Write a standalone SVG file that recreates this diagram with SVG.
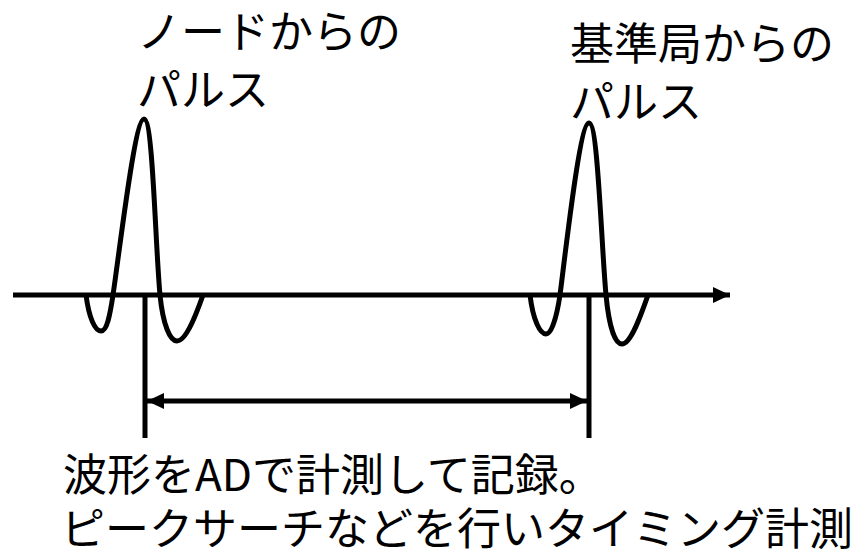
<svg xmlns="http://www.w3.org/2000/svg" width="856" height="558" viewBox="0 0 856 558">
<style>
.t{font-family:"Noto Sans CJK JP","Noto Sans",sans-serif;font-size:44px;fill:#000}
.s{fill:none;stroke:#000;stroke-width:5}
</style>
<defs>
<marker id="ah" markerUnits="userSpaceOnUse" markerWidth="18" markerHeight="18" viewBox="0 0 18 18" refX="17" refY="9" orient="auto-start-reverse">
<path d="M0,1 L17,9 L0,17 Z" fill="#000"/>
</marker>
</defs>
<rect width="856" height="558" fill="#fff"/>
<g id="node-pulse">
<text class="t" x="137" y="48">ノードからの</text>
<text class="t" x="137" y="106">パルス</text>
<path class="s" d="M86,295 C89,318 95,331 101,331 C107,331 110,315 113,295 C121,240 135,119 144,119 C153,119 155,240 160,295 C163,325 170,341 177,341 C186,341 196,315 203,295"/>
</g>
<g id="ref-pulse">
<text class="t" x="570" y="60">基準局からの</text>
<text class="t" x="570" y="118">パルス</text>
<path class="s" d="M530,295 C533,320 540,334 546,334 C552,334 557,315 560,295 C567,240 580,123 589,123 C598,123 601,240 606,295 C609,327 615,344 622,344 C631,344 641,315 648,295"/>
</g>
<g id="caption">
<text class="t" x="63" y="491">波形をADで計測して記録。</text>
<text class="t" x="61" y="545">ピークサーチなどを行いタイミング計測</text>
</g>
<g id="connectors">
<line class="s" x1="13" y1="295" x2="730" y2="295" marker-end="url(#ah)"/>
<line class="s" x1="145" y1="295" x2="145" y2="438"/>
<line class="s" x1="589" y1="295" x2="589" y2="438"/>
<line class="s" x1="147" y1="401" x2="587" y2="401" marker-start="url(#ah)" marker-end="url(#ah)"/>
</g>
</svg>
